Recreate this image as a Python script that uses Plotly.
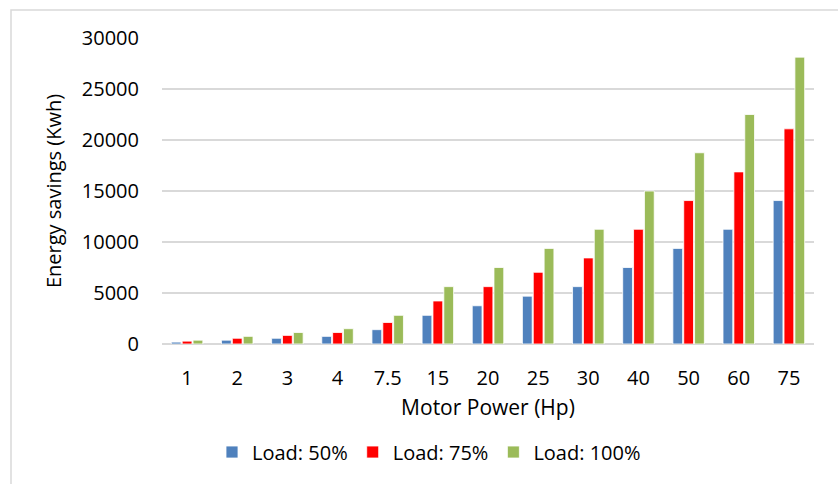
import plotly.graph_objects as go

categories = ["1", "2", "3", "4", "7.5", "15", "20", "25", "30", "40", "50", "60", "75"]
load_50 = [188, 375, 563, 750, 1406, 2813, 3750, 4688, 5625, 7500, 9375, 11250, 14063]
load_75 = [281, 563, 844, 1125, 2109, 4219, 5625, 7031, 8438, 11250, 14063, 16875, 21094]
load_100 = [375, 750, 1125, 1500, 2813, 5625, 7500, 9375, 11250, 15000, 18750, 22500, 28125]
series_names = ["Load: 50%", "Load: 75%", "Load: 100%"]
colors = ["#4F81BD", "#FF0000", "#9BBB59"]
y_ticks = [0, 5000, 10000, 15000, 20000, 25000, 30000]

FONT = "Open Sans"

fig = go.Figure()
for name, vals, col in zip(series_names, [load_50, load_75, load_100], colors):
    fig.add_trace(go.Bar(x=categories, y=vals, name=name,
                         marker=dict(color=col, line=dict(color="white", width=0.8))))

fig.update_layout(
    width=838, height=484,
    margin=dict(l=162, r=24, t=38, b=140),
    paper_bgcolor="white", plot_bgcolor="white",
    font=dict(family=FONT, size=18, color="#000000"),
    barmode="group", bargap=0.35, bargroupgap=0.1,
    showlegend=True,
    legend=dict(orientation="h", x=(228 - 16 - 162) / 652, xanchor="left", y=-0.353, yanchor="middle",
                font=dict(family=FONT, size=20, color="#000000"),
                traceorder="normal"),
    xaxis=dict(type="category", showline=False, ticks="outside", ticklen=16,
               tickcolor="rgba(0,0,0,0)", tickfont=dict(size=20),
               title=dict(text="Motor Power (Hp)", font=dict(size=21), standoff=10)),
    yaxis=dict(range=[0, 30000], tickvals=y_ticks, tickformat="d", showgrid=True, gridcolor="#D9D9D9",
               gridwidth=1.5, zeroline=True, zerolinecolor="#D9D9D9", zerolinewidth=1.5,
               ticks="outside", ticklen=18, tickcolor="rgba(0,0,0,0)",
               tickfont=dict(size=20),
               title=dict(text="Energy savings (Kwh)", font=dict(size=20), standoff=14)),
    shapes=[dict(type="rect", xref="paper", yref="paper",
                 x0=(11 - 162) / 652, x1=(845 - 162) / 652,
                 y0=(344 - 495) / 306, y1=1 + (38 - 10) / 306,
                 line=dict(color="#D9D9D9", width=1.5), fillcolor="rgba(0,0,0,0)", layer="below")],
)

fig.write_html("out.html")
